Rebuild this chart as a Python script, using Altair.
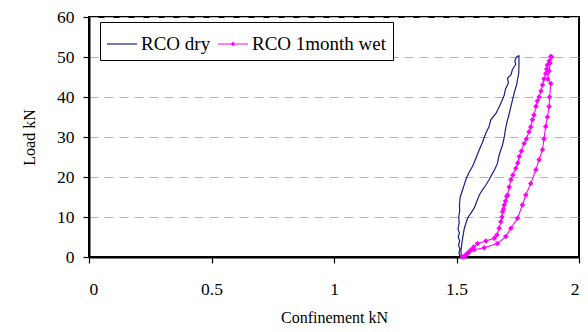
import altair as alt
import pandas as pd

# RCO dry: loading branch (left) then unloading branch (right)
dry_conf = [1.515, 1.510, 1.514, 1.508, 1.513, 1.507, 1.512, 1.506, 1.511, 1.509, 1.513, 1.512,
            1.515, 1.525, 1.538, 1.550, 1.565, 1.578, 1.593, 1.605, 1.620, 1.633, 1.640, 1.661,
            1.675, 1.685, 1.695, 1.700, 1.712, 1.708, 1.722, 1.728, 1.735, 1.742, 1.738, 1.745,
            1.753, 1.755, 1.755, 1.754, 1.745, 1.735, 1.722, 1.712, 1.708, 1.700, 1.695, 1.688,
            1.681, 1.672, 1.667, 1.657, 1.647, 1.633, 1.620, 1.606, 1.593, 1.572, 1.545, 1.532,
            1.525, 1.520, 1.518, 1.520]
dry_load = [0.0, 1.0, 2.0, 3.0, 4.0, 5.0, 6.0, 7.0, 8.5, 10.0, 11.5, 13.0,
            15.0, 16.8, 19.3, 21.0, 22.6, 24.5, 26.8, 28.5, 31.0, 32.6, 34.3, 35.9,
            37.6, 39.0, 40.5, 42.0, 43.5, 44.7, 45.5, 46.8, 47.5, 48.2, 49.0, 50.0,
            50.3, 50.3, 48.0, 46.0, 43.0, 40.9, 37.6, 35.0, 34.3, 32.0, 30.0, 28.0,
            26.8, 25.0, 23.4, 22.0, 20.9, 19.3, 18.0, 16.8, 15.5, 12.2, 9.7, 7.2,
            4.7, 2.5, 1.3, 0.0]

# RCO 1month wet: loading branch (left) then unloading branch (right)
wet_conf = [1.530, 1.535, 1.540, 1.545, 1.550, 1.559, 1.570, 1.586, 1.620, 1.654, 1.665,
            1.674, 1.681, 1.686, 1.688, 1.692, 1.695, 1.700, 1.705, 1.708, 1.715, 1.722,
            1.730, 1.742, 1.750, 1.756, 1.765, 1.776, 1.785, 1.796, 1.803, 1.810, 1.816,
            1.824, 1.830, 1.837, 1.845, 1.851, 1.857, 1.864, 1.868, 1.871, 1.878, 1.885,
            1.888, 1.882, 1.878, 1.872, 1.885, 1.880, 1.878, 1.871, 1.864, 1.857, 1.851,
            1.837, 1.824, 1.803, 1.783, 1.769, 1.749, 1.722, 1.701, 1.667, 1.613, 1.572,
            1.545, 1.525]
wet_load = [0.0, 0.3, 0.6, 0.9, 1.2, 1.8, 2.5, 3.4, 4.0, 4.7, 5.5,
            7.2, 8.8, 10.0, 11.3, 12.0, 13.0, 14.0, 15.1, 15.5, 17.5, 19.3,
            20.5, 22.2, 23.5, 25.1, 26.5, 28.4, 29.5, 31.3, 32.5, 34.3, 35.5,
            37.6, 39.0, 40.0, 41.5, 43.0, 44.5, 45.9, 47.0, 48.0, 49.0, 50.1,
            50.0, 48.5, 46.5, 44.5, 43.4, 40.0, 37.6, 35.0, 32.6, 29.5, 26.8,
            24.3, 21.8, 18.4, 15.5, 13.0, 9.7, 7.2, 5.1, 3.4, 2.3, 1.8,
            0.9, 0.0]

series_names = ["RCO dry", "RCO 1month wet"]
series_colors = ["#1c1c8c", "#ff00ff"]
x_ticks = [0, 0.5, 1, 1.5, 2]
y_ticks = [0, 10, 20, 30, 40, 50, 60]

dry = pd.DataFrame({"conf": dry_conf, "load": dry_load, "i": range(len(dry_conf))})
wet = pd.DataFrame({"conf": wet_conf, "load": wet_load, "i": range(len(wet_conf))})
names = pd.DataFrame({"series": series_names})

SERIF = "Liberation Serif"
FS = 17.5

x_enc = alt.X("conf:Q", title="Confinement kN",
              scale=alt.Scale(domain=[0, 2], nice=False),
              axis=alt.Axis(values=x_ticks, format="~g", grid=False,
                            labelFont=SERIF, labelFontSize=FS, labelColor="black",
                            labelPadding=17, titlePadding=12))
y_enc = alt.Y("load:Q", title="Load kN",
              scale=alt.Scale(domain=[0, 60], nice=False),
              axis=alt.Axis(values=y_ticks, grid=True,
                            labelFont=SERIF, labelFontSize=FS, labelColor="black",
                            labelPadding=9, titlePadding=19))

dry_line = alt.Chart(dry).mark_line(color=series_colors[0], strokeWidth=1.2).encode(
    x=x_enc, y=y_enc, order="i:Q")

wet_line = alt.Chart(wet).mark_line(color=series_colors[1], strokeWidth=1.1).encode(
    x=x_enc, y=y_enc, order="i:Q")

wet_pts = alt.Chart(wet).mark_point(color=series_colors[1], filled=True, shape="diamond",
                                    size=30, opacity=1).encode(x=x_enc, y=y_enc)

# legend-only layer: line symbol, and line with a diamond marker
legend_layer = alt.Chart(names).transform_filter("false").mark_point().encode(
    color=alt.Color("series:N",
                    scale=alt.Scale(domain=series_names, range=series_colors),
                    legend=alt.Legend(title=None, orient="none", legendX=11, legendY=5,
                                      direction="horizontal", strokeColor="black",
                                      fillColor="white", padding=6, columnPadding=4,
                                      labelFont=SERIF, labelFontSize=19, labelColor="black",
                                      labelOffset=3, symbolSize=900, symbolStrokeWidth=1.2,
                                      symbolOpacity=1)),
    shape=alt.Shape("series:N",
                    scale=alt.Scale(domain=series_names,
                                    range=["M-1,0L1,0",
                                           "M-1,0L1,0M-0.1,0L0,-0.1L0.1,0L0,0.1Z"
                                           "M-0.05,0L0,-0.05L0.05,0L0,0.05Z"]),
                    legend=alt.Legend(title=None, orient="none", legendX=11, legendY=5,
                                      direction="horizontal")),
)

chart = alt.layer(dry_line, wet_line, wet_pts, legend_layer).properties(
    width=490, height=240,
    background="white",
    autosize=alt.AutoSizeParams(type="none"),
    padding={"left": 89, "top": 17, "right": 9, "bottom": 75},
).configure_view(
    stroke="black", strokeWidth=2
).configure_axis(
    domainColor="black", domainWidth=2, tickColor="black", tickSize=6, tickWidth=1.2,
    labelFont=SERIF, labelFontSize=FS, labelColor="black",
    titleFont=SERIF, titleFontSize=16, titleFontWeight="normal", titleColor="black",
    gridColor="#b4b4b4", gridDash=[9, 6], gridWidth=1,
)

chart.save("out.html", embed_options={"renderer": "svg", "actions": False})
